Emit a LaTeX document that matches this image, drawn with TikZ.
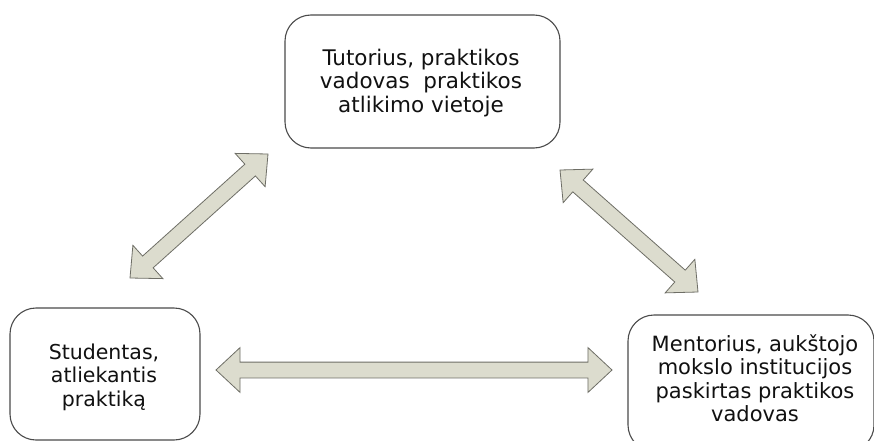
\documentclass[tikz,border=0pt]{standalone}
\usepackage{fontspec}
\setmainfont{DejaVu Sans}
\usetikzlibrary{shapes.arrows,calc}
\definecolor{arrowfill}{HTML}{DCDCCE}
\definecolor{arrowedge}{HTML}{6E6E66}
\definecolor{boxedge}{HTML}{4A4A4A}
\definecolor{txt}{HTML}{111111}
\tikzset{
  box/.style={draw=boxedge, line width=1.1pt, rounded corners=26pt, fill=white, inner sep=0pt},
  boxtext/.style={align=center, text=txt, font=\fontsize{20.5}{23.5}\selectfont, inner sep=0pt},
  darrow/.style={double arrow, draw=arrowedge, fill=arrowfill, line width=0.8pt,
    inner xsep=0pt, inner ysep=7.5pt, minimum width=0pt,
    double arrow head extend=14.5pt, double arrow tip angle=86, shape border uses incircle=false}
}
\begin{document}
\begin{tikzpicture}[x=1pt,y=-1pt]
\useasboundingbox (0,0) rectangle (874,441);
\fill[white] (0,0) rectangle (874,441);
\clip (0,0) rectangle (874,441);
% boxes
\node[box, minimum width=275pt, minimum height=133pt] (tutor) at (422.5,81.5) {};
\node[boxtext, font=\fontsize{21.5}{23.5}\selectfont] (tutortext) at (421,83) {Tutorius, praktikos\\vadovas \ praktikos\\atlikimo vietoje};
\node[box, minimum width=190pt, minimum height=132pt] (student) at (105,374) {};
\node[boxtext] (studenttext) at (104,377) {Studentas,\\atliekantis\\praktiką};
\node[box, minimum width=246pt, minimum height=136pt] (mentor) at (751,383) {};
\node[boxtext, font=\fontsize{21}{23.5}\selectfont] (mentortext) at (755,378) {Mentorius, aukštojo\\mokslo institucijos\\paskirtas praktikos\\vadovas};
% arrow end points
\coordinate (l1) at (130,278);
\coordinate (l2) at (268,154);
\coordinate (r1) at (560,170);
\coordinate (r2) at (698,292);
\coordinate (h1) at (216,370);
\coordinate (h2) at (612,370);
% arrows
\path let \p1=($(l2)-(l1)$), \n1={atan2(\y1,\x1)}, \n2={veclen(\x1,\y1)} in
  node[darrow, minimum height=\n2, rotate=\n1] (leftarrow) at ($(l1)!0.5!(l2)$) {};
\path let \p1=($(r2)-(r1)$), \n1={atan2(\y1,\x1)}, \n2={veclen(\x1,\y1)} in
  node[darrow, minimum height=\n2, rotate=\n1] (rightarrow) at ($(r1)!0.5!(r2)$) {};
\path let \p1=($(h2)-(h1)$), \n1={atan2(\y1,\x1)}, \n2={veclen(\x1,\y1)} in
  node[darrow, minimum height=\n2, rotate=\n1] (bottomarrow) at ($(h1)!0.5!(h2)$) {};
\end{tikzpicture}
\end{document}
